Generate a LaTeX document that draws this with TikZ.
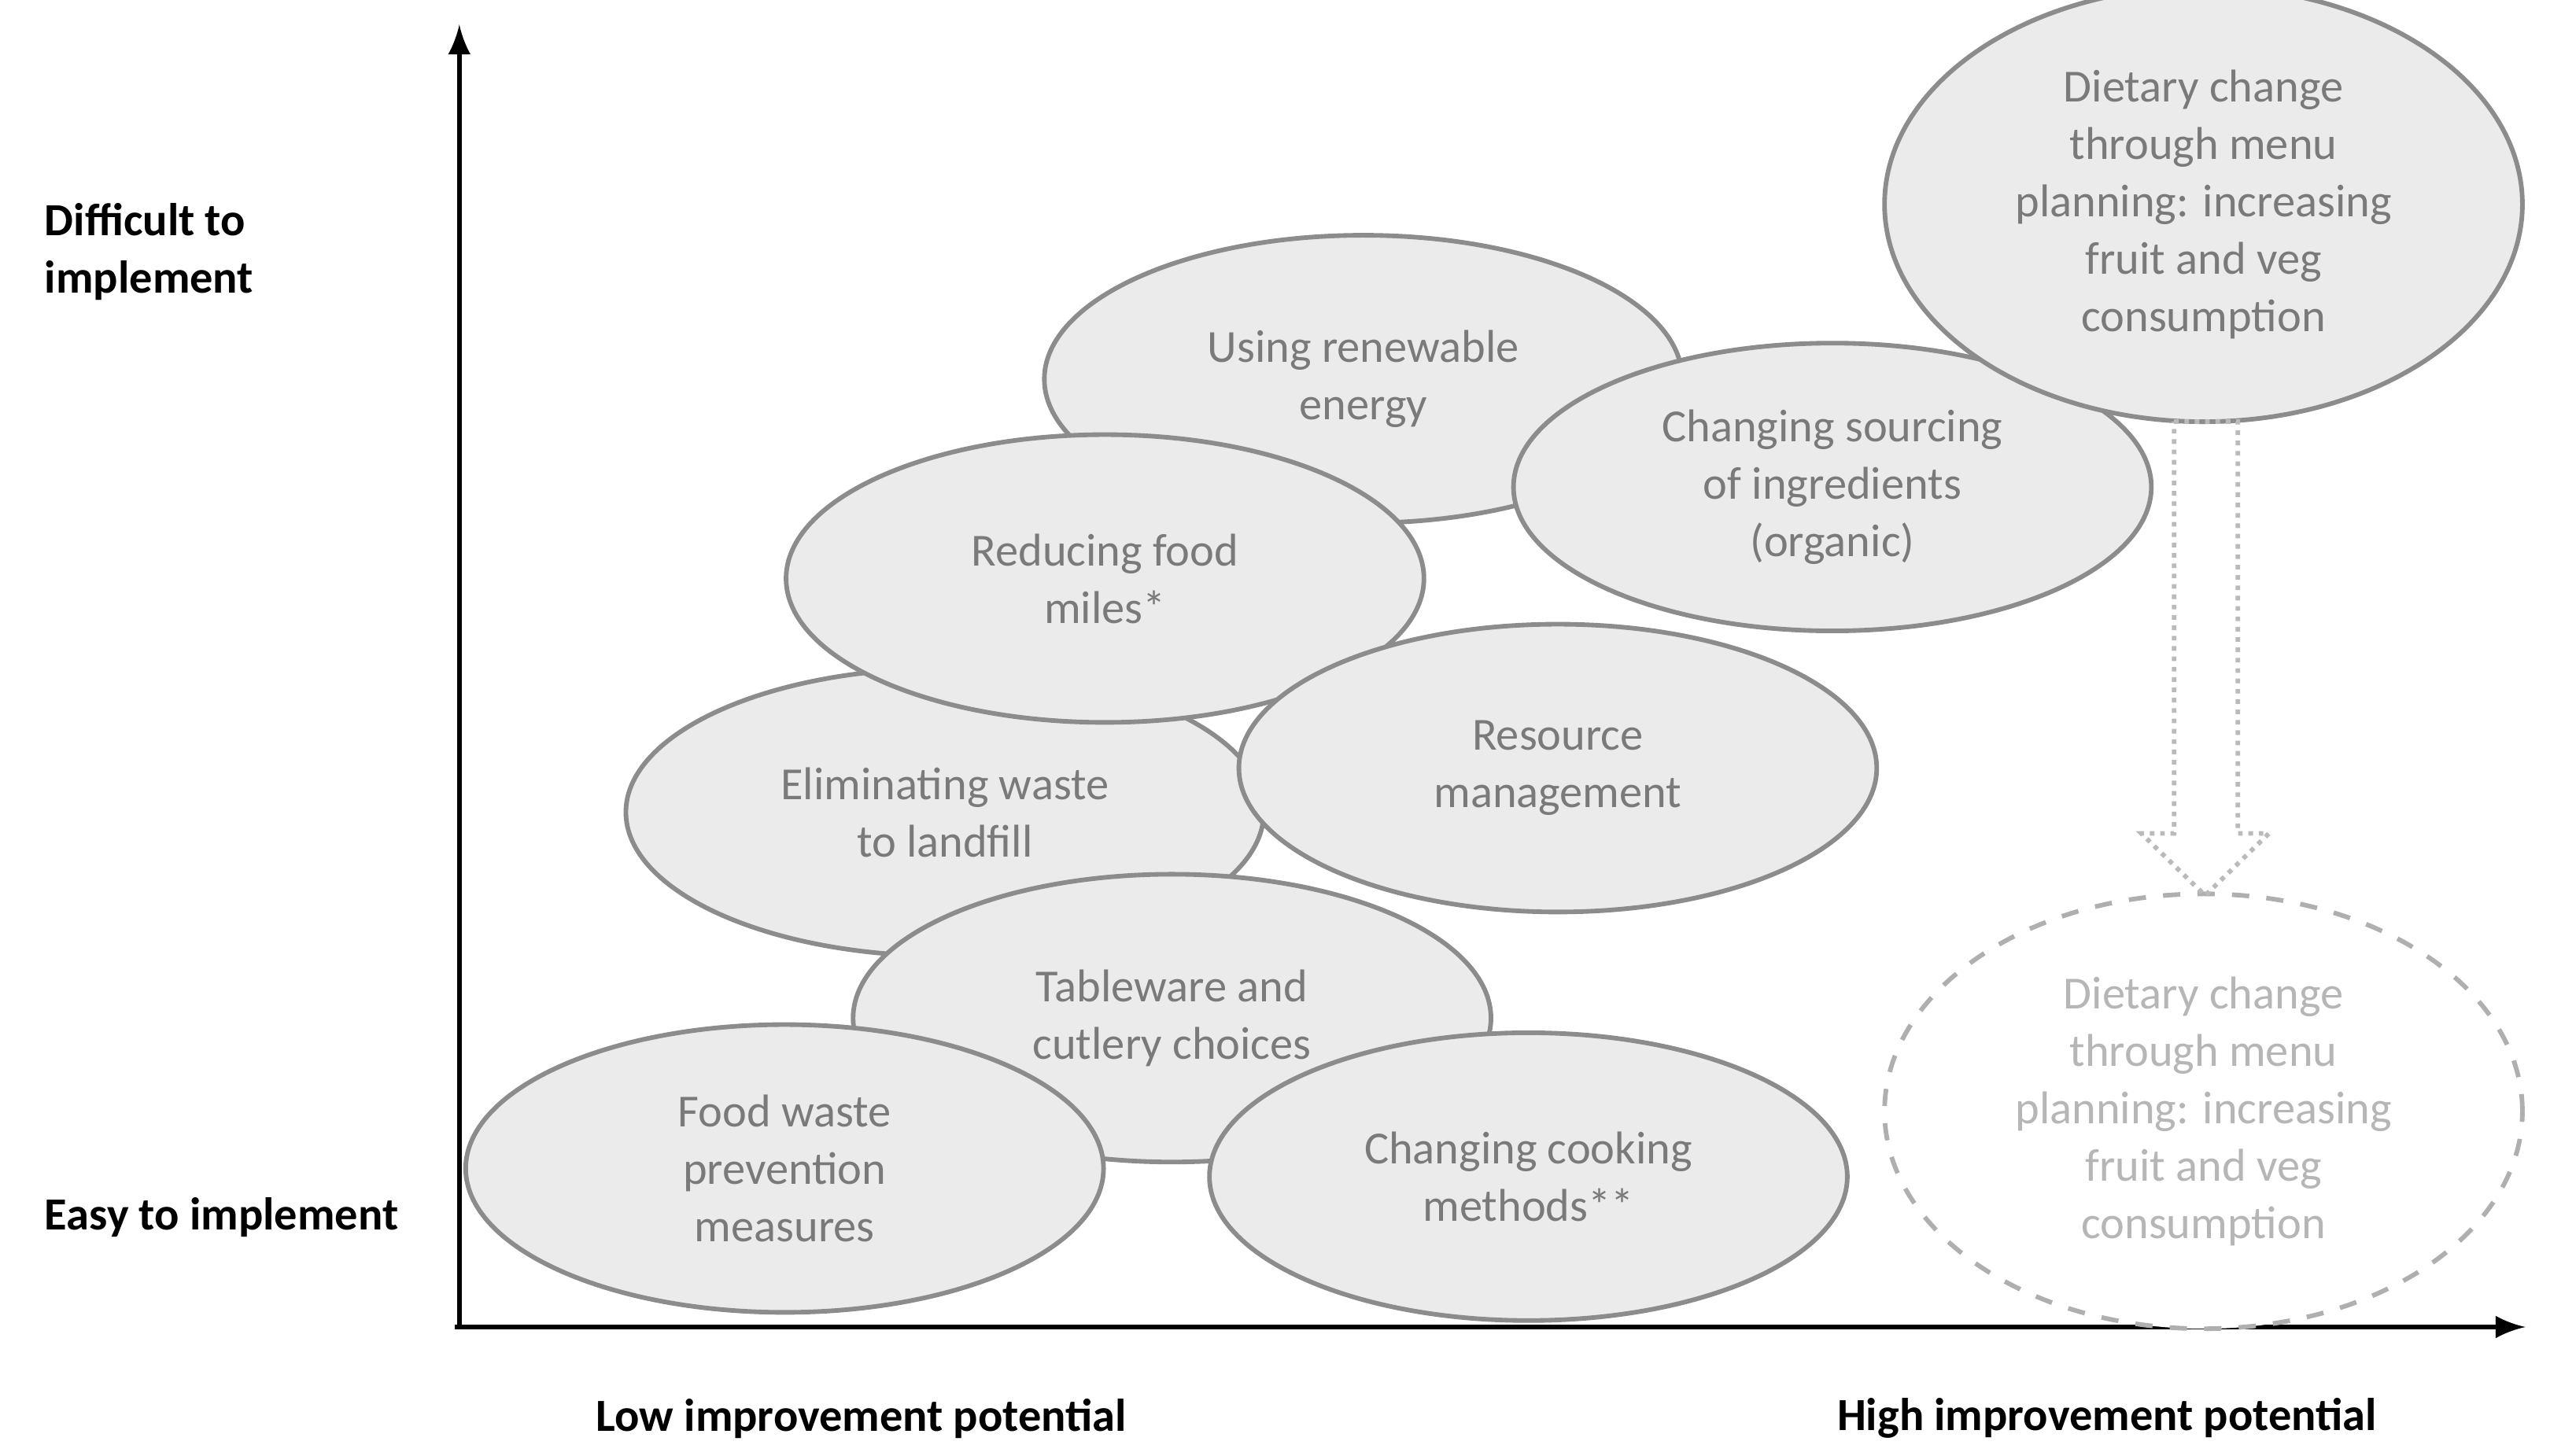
\documentclass[tikz,border=0pt]{standalone}
\usepackage{fontspec}
\setmainfont{Carlito}
\usetikzlibrary{shapes.geometric}
\definecolor{ovalfill}{HTML}{EBEBEB}
\definecolor{ovalline}{HTML}{8C8C8C}
\definecolor{ovaltext}{HTML}{7A7A7A}
\tikzset{
  measure/.style={ellipse, draw=ovalline, fill=ovalfill, thick, text=ovaltext,
    minimum width=3.9cm, minimum height=1.76cm, align=center,
    font=\fontsize{8}{10}\selectfont},
  axislabel/.style={font=\bfseries\fontsize{8}{10}\selectfont, align=left}
}
\begin{document}
\begin{tikzpicture}[x=0.01cm, y=-0.01cm]
    \useasboundingbox (0,0) rectangle (1560,890.5);

    %Axes
    \coordinate (origin) at (281,812);
    \coordinate (ytop) at (281,15);
    \coordinate (xend) at (1545,812);
    \draw[thick,-latex] (origin) -- (ytop);
    \draw[thick,-latex] (278,812) -- (xend);

    %Axis labels
    \node[axislabel, anchor=north west] (hard) at (15,112) {Difficult to\\implement};
    \node[axislabel, anchor=west] (easy) at (15,745) {Easy to implement};
    \node[axislabel] (low) at (527,868) {Low improvement potential};
    \node[axislabel] (high) at (1289,868) {High improvement potential};

    %Measures
    \node[measure] (energy) at (834,232) {Using renewable\\energy};
    \node[measure] (sourcing) at (1121,298) {Changing sourcing\\of ingredients\\(organic)};
    \node[measure] (landfill) at (578,497) {Eliminating waste\\to landfill};
    \node[measure] (miles) at (676,354) {Reducing food\\miles*};
    \node[measure] (resource) at (953,470) {Resource\\management};
    \node[measure] (tableware) at (717,623) {Tableware and\\cutlery choices};
    \node[measure] (foodwaste) at (480,715) {Food waste\\prevention\\measures};
    \node[measure] (cooking) at (935,720) {Changing cooking\\methods**};

    %Dietary change, now and later
    \node[measure, minimum height=2.04cm] (diet) at (1348,125)
        {Dietary change\\through menu\\planning: increasing\\fruit and veg\\consumption};
    \node[measure, minimum height=2.04cm, dashed, draw=ovalline!70, fill=white, text=ovaltext!55] (dietlater) at (1348,680)
        {Dietary change\\through menu\\planning: increasing\\fruit and veg\\consumption};

    %Hollow arrow
    \draw[ovalline!60, densely dotted, thick]
        (1330,258) -- (1369,258) -- (1369,510) -- (1388,510) -- (1349,548)
        -- (1310,510) -- (1330,510) -- cycle;
\end{tikzpicture}
\end{document}
